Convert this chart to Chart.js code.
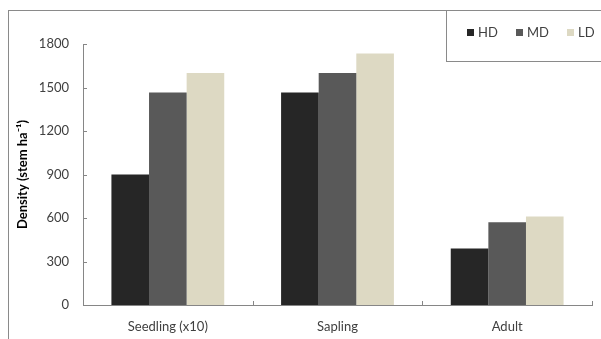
<!DOCTYPE html>
<html>
<head>
<meta charset="utf-8">
<script src="https://cdn.jsdelivr.net/npm/chart.js@4/dist/chart.umd.min.js"></script>
<style>
  html,body{margin:0;padding:0;background:#fff;}
  #wrap{position:relative;width:601px;height:339px;overflow:hidden;}
  #frame{position:absolute;left:8px;top:10px;width:600px;height:340px;border-left:1px solid #8a8a8a;border-top:1px solid #8a8a8a;box-sizing:border-box;}
  #legend{position:absolute;left:446px;top:10px;width:170px;height:52px;border-left:1px solid #8a8a8a;border-bottom:1px solid #8a8a8a;box-sizing:border-box;font-family:Lato, "Open Sans", sans-serif;font-size:13px;color:#404040;}
  .item{position:absolute;top:14px;line-height:16px;white-space:nowrap;}
  .sw{display:inline-block;width:7px;height:7px;margin-right:4px;vertical-align:1px;}
  canvas{position:absolute;left:0;top:0;}
</style>
</head>
<body>
<div id="wrap">
  <div id="frame"></div>
  <canvas id="c" width="601" height="339"></canvas>
  <div id="legend"></div>
</div>
<script>
const categories = ["Seedling (x10)", "Sapling", "Adult"];
const seriesNames = ["HD", "MD", "LD"];
const hdValues = [900, 1465, 390];
const mdValues = [1465, 1600, 570];
const ldValues = [1600, 1735, 610];
const yTicks = [0, 300, 600, 900, 1200, 1500, 1800];
const colors = ["#262626", "#595959", "#ddd9c3"];
const yTitle = "Density (stem ha\u207B\u00B9)";

const FONT = "Lato, 'Open Sans', sans-serif";
const AXIS = "#868686";

// HTML legend built from series names/colours
const legendEl = document.getElementById('legend');
const legendX = [20, 69, 120];
seriesNames.forEach((n, i) => {
  const d = document.createElement('div');
  d.className = 'item';
  d.style.left = legendX[i] + 'px';
  const s = document.createElement('span');
  s.className = 'sw';
  s.style.background = colors[i];
  d.appendChild(s);
  d.appendChild(document.createTextNode(n));
  legendEl.appendChild(d);
});

const innerTicks = {
  id: 'innerTicks',
  afterDraw(chart) {
    const ctx = chart.ctx;
    const y = chart.scales.y, x = chart.scales.x;
    ctx.save();
    ctx.strokeStyle = AXIS;
    ctx.lineWidth = 1;
    ctx.beginPath();
    yTicks.forEach(v => {
      const py = Math.round(y.getPixelForValue(v)) + 0.5;
      ctx.moveTo(x.left, py);
      ctx.lineTo(x.left + 4, py);
    });
    const n = categories.length;
    for (let i = 0; i < n; i++) {
      let px;
      if (i < n - 1) px = (x.getPixelForValue(i) + x.getPixelForValue(i + 1)) / 2;
      else px = x.right;
      px = Math.round(px) + 0.5;
      ctx.moveTo(px, y.bottom);
      ctx.lineTo(px, y.bottom - 4);
    }
    ctx.stroke();
    ctx.restore();
  }
};

new Chart(document.getElementById('c'), {
  type: 'bar',
  data: {
    labels: categories,
    datasets: [
      { label: seriesNames[0], data: hdValues, backgroundColor: colors[0] },
      { label: seriesNames[1], data: mdValues, backgroundColor: colors[1] },
      { label: seriesNames[2], data: ldValues, backgroundColor: colors[2] }
    ]
  },
  options: {
    responsive: false,
    animation: false,
    devicePixelRatio: 1,
    layout: { padding: { left: 8, right: 9, top: 44, bottom: 0 } },
    datasets: { bar: { barPercentage: 1.0, categoryPercentage: 0.665 } },
    plugins: { legend: { display: false }, tooltip: { enabled: false } },
    scales: {
      x: {
        grid: { display: false, drawTicks: false },
        border: { color: AXIS, width: 1 },
        ticks: { color: "#404040", font: { family: FONT, size: 13 }, padding: 14, maxRotation: 0 },
        afterFit: s => { s.height = 34; }
      },
      y: {
        min: 0, max: 1800,
        afterBuildTicks: s => { s.ticks = yTicks.map(v => ({ value: v })); },
        grid: { display: false, drawTicks: false },
        border: { color: AXIS, width: 1 },
        ticks: { color: "#404040", font: { family: FONT, size: 13 }, padding: 14, callback: v => String(v) },
        title: { display: true, text: yTitle, color: "#000", font: { family: FONT, size: 13, weight: 'bold' }, padding: { top: 7, bottom: 0 } },
        afterFit: s => { s.width = 75; }
      }
    }
  },
  plugins: [innerTicks]
});
</script>
</body>
</html>
